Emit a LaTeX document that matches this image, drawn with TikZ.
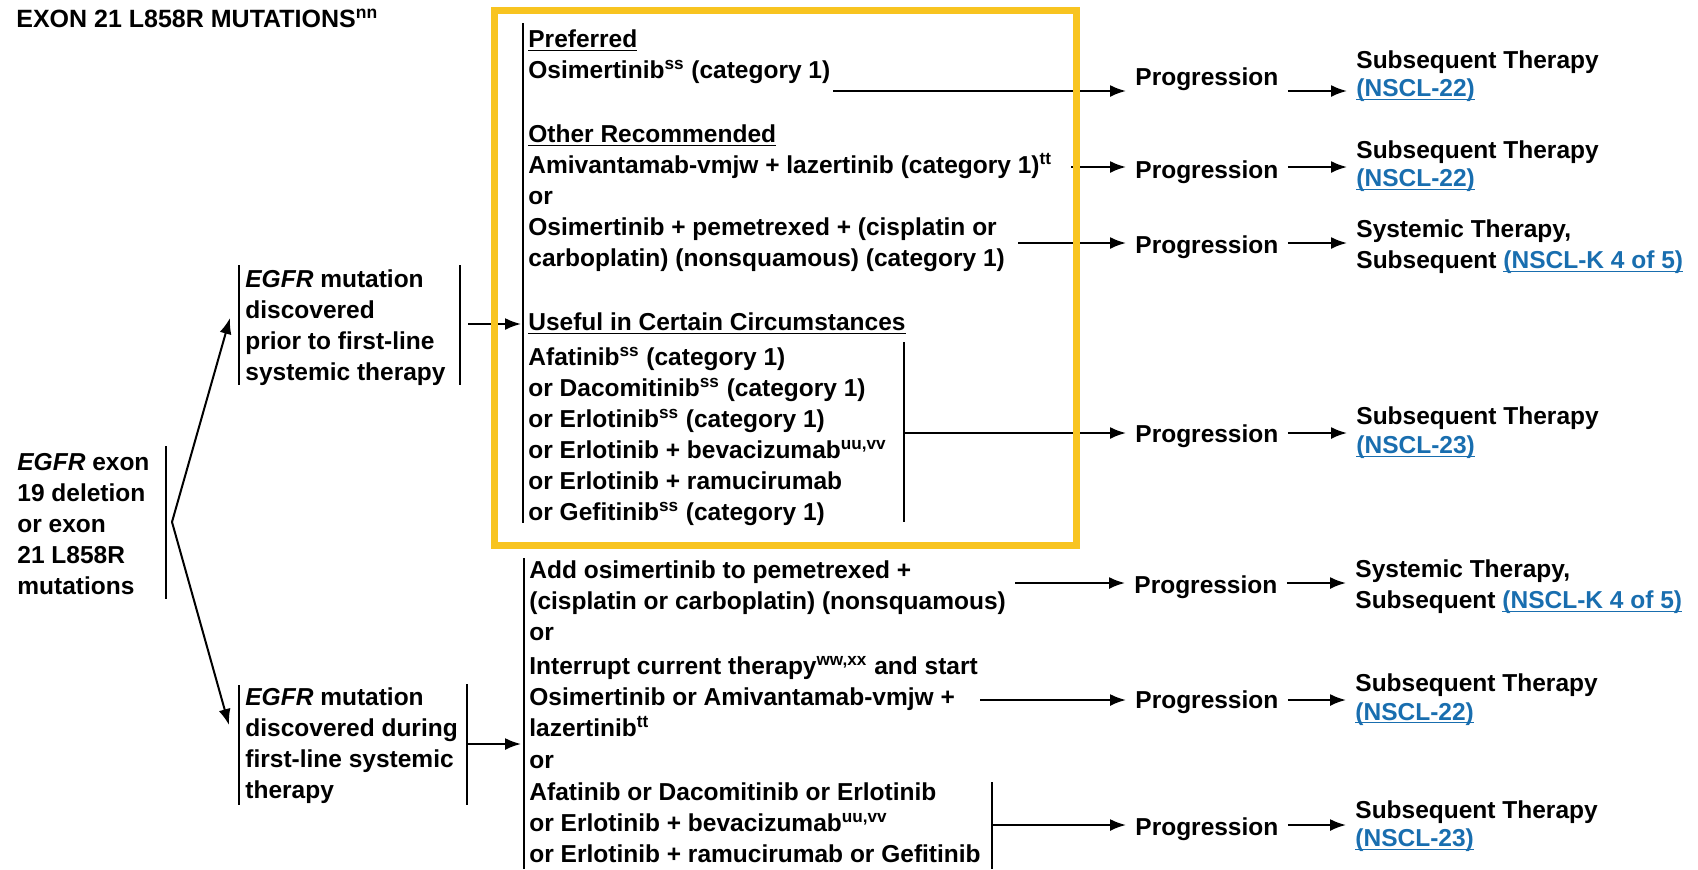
\documentclass[tikz,border=0pt]{standalone}
\usepackage{fontspec}
\setmainfont{Liberation Sans}
\usetikzlibrary{arrows.meta}
\definecolor{linkBlue}{RGB}{25,110,175}
\definecolor{markYellow}{RGB}{248,196,32}
\newcommand{\nsclLink}[1]{\textcolor{linkBlue}{\underline{\smash{#1}}}}

\begin{document}
\begin{tikzpicture}[x = 0.5pt, y = -0.5pt, font = \fontsize{12.25pt}{15.5pt}\selectfont\bfseries]
	% multi-line nodes sit on the baseline of their last line
	\tikzstyle{textStyle} = [anchor = base west, align = left, inner sep = 0pt]
	\tikzstyle{progStyle} = [anchor = base west, align = left, inner xsep = 4.5pt, inner ysep = 0pt]
	\tikzstyle{nextStyle} = [progStyle, font = \fontsize{12.25pt}{14.2pt}\selectfont\bfseries]
	\tikzstyle{barStyle} = [line width = 0.8pt]
	\tikzstyle{arrowStyle} = [line width = 1pt, -{Latex[length = 8pt, width = 6pt]}]
	\tikzstyle{markStyle} = [draw = markYellow, line width = 3.5pt]
	\useasboundingbox (0, 0) rectangle (1698, 869);
	% left column
	\node[textStyle, font = \fontsize{12.5pt}{14pt}\selectfont\bfseries] (title) at (16, 27) {EXON 21 L858R MUTATIONS\textsuperscript{nn}};
	\node[textStyle] (exon) at (17, 594) {\textit{EGFR} exon\\19 deletion\\or exon\\21 L858R\\mutations};
	\node[textStyle] (prior) at (245, 380) {\textit{EGFR} mutation\\discovered\\prior to first-line\\systemic therapy};
	\node[textStyle] (during) at (245, 798) {\textit{EGFR} mutation\\discovered during\\first-line systemic\\therapy};
	% options, found before first-line therapy
	\node[textStyle] (preferred) at (528, 78) {\underline{Preferred}\\Osimertinib\textsuperscript{ss} (category 1)};
	\node[textStyle] (otherRec) at (528, 266.5) {\underline{Other Recommended}\\Amivantamab-vmjw + lazertinib (category 1)\textsuperscript{tt}\\or\\Osimertinib + pemetrexed + (cisplatin or\\carboplatin) (nonsquamous) (category 1)};
	\node[textStyle] (useful) at (528, 520) {\underline{Useful in Certain Circumstances}\\[2pt]Afatinib\textsuperscript{ss} (category 1)\\or Dacomitinib\textsuperscript{ss} (category 1)\\or Erlotinib\textsuperscript{ss} (category 1)\\or Erlotinib + bevacizumab\textsuperscript{uu,vv}\\or Erlotinib + ramucirumab\\or Gefitinib\textsuperscript{ss} (category 1)};
	% options, found during first-line therapy
	\node[textStyle] (addOsi) at (529, 609.5) {Add osimertinib to pemetrexed +\\(cisplatin or carboplatin) (nonsquamous)};
	\node[textStyle] (orA) at (529, 640) {or};
	\node[textStyle] (interrupt) at (529, 736) {Interrupt current therapy\textsuperscript{ww,xx} and start\\Osimertinib or Amivantamab-vmjw +\\lazertinib\textsuperscript{tt}};
	\node[textStyle] (orB) at (529, 768) {or};
	\node[textStyle] (afatinib) at (529, 862) {Afatinib or Dacomitinib or Erlotinib\\or Erlotinib + bevacizumab\textsuperscript{uu,vv}\\or Erlotinib + ramucirumab or Gefitinib};
	% progression
	\node[progStyle] (prog1) at (1126, 85) {Progression};
	\node[progStyle] (prog2) at (1126, 178) {Progression};
	\node[progStyle] (prog3) at (1126, 253) {Progression};
	\node[progStyle] (prog4) at (1126, 442) {Progression};
	\node[progStyle] (prog5) at (1125, 593) {Progression};
	\node[progStyle] (prog6) at (1126, 708) {Progression};
	\node[progStyle] (prog7) at (1126, 835) {Progression};
	\node[nextStyle] (next1) at (1347, 96.7) {Subsequent Therapy\\\nsclLink{(NSCL-22)}};
	\node[nextStyle] (next2) at (1347, 186.7) {Subsequent Therapy\\\nsclLink{(NSCL-22)}};
	\node[progStyle] (next3) at (1347, 268.3) {Systemic Therapy,\\Subsequent \nsclLink{(NSCL-K 4 of 5)}};
	\node[nextStyle] (next4) at (1347, 453.3) {Subsequent Therapy\\\nsclLink{(NSCL-23)}};
	\node[progStyle] (next5) at (1346, 608.3) {Systemic Therapy,\\Subsequent \nsclLink{(NSCL-K 4 of 5)}};
	\node[nextStyle] (next6) at (1346, 720) {Subsequent Therapy\\\nsclLink{(NSCL-22)}};
	\node[nextStyle] (next7) at (1346, 846.7) {Subsequent Therapy\\\nsclLink{(NSCL-23)}};
	% brackets
	\draw[barStyle] (166, 446) -- (166, 599);
	\draw[barStyle] (239, 265) -- (239, 385);
	\draw[barStyle] (460, 265) -- (460, 385);
	\draw[barStyle] (239, 685) -- (239, 805);
	\draw[barStyle] (467, 684) -- (467, 805);
	\draw[barStyle] (523, 23) -- (523, 523);
	\draw[barStyle] (904, 342) -- (904, 522);
	\draw[barStyle] (524, 558) -- (524, 869);
	\draw[barStyle] (992, 782) -- (992, 869);
	\coordinate (fork) at (172, 522);
	\coordinate (priorIn) at (230, 318);
	\coordinate (duringIn) at (229, 725);
	\coordinate (priorOut) at (468, 324);
	\coordinate (topIn) at (521, 324);
	\coordinate (duringOut) at (468, 744);
	\coordinate (bottomIn) at (521, 744);
	\coordinate (s1) at (833, 91);
	\coordinate (s2) at (1071, 167);
	\coordinate (s3) at (1018, 243);
	\coordinate (s4) at (904, 433);
	\coordinate (s5) at (1015, 583);
	\coordinate (s6) at (980, 700);
	\coordinate (s7) at (992, 825);
	\draw[arrowStyle] (fork) -- (priorIn);
	\draw[arrowStyle] (fork) -- (duringIn);
	\draw[arrowStyle] (priorOut) -- (topIn);
	\draw[arrowStyle] (duringOut) -- (bottomIn);
	\draw[arrowStyle] (s1) -- (s1 -| prog1.west);
	\draw[arrowStyle] (s2) -- (s2 -| prog2.west);
	\draw[arrowStyle] (s3) -- (s3 -| prog3.west);
	\draw[arrowStyle] (s4) -- (s4 -| prog4.west);
	\draw[arrowStyle] (s5) -- (s5 -| prog5.west);
	\draw[arrowStyle] (s6) -- (s6 -| prog6.west);
	\draw[arrowStyle] (s7) -- (s7 -| prog7.west);
	\draw[arrowStyle] (prog1.east |- s1) -- (s1 -| next1.west);
	\draw[arrowStyle] (prog2.east |- s2) -- (s2 -| next2.west);
	\draw[arrowStyle] (prog3.east |- s3) -- (s3 -| next3.west);
	\draw[arrowStyle] (prog4.east |- s4) -- (s4 -| next4.west);
	\draw[arrowStyle] (prog5.east |- s5) -- (s5 -| next5.west);
	\draw[arrowStyle] (prog6.east |- s6) -- (s6 -| next6.west);
	\draw[arrowStyle] (prog7.east |- s7) -- (s7 -| next7.west);
	% highlight
	\draw[markStyle] (494, 10.5) rectangle (1076, 545);
\end{tikzpicture}
\end{document}
